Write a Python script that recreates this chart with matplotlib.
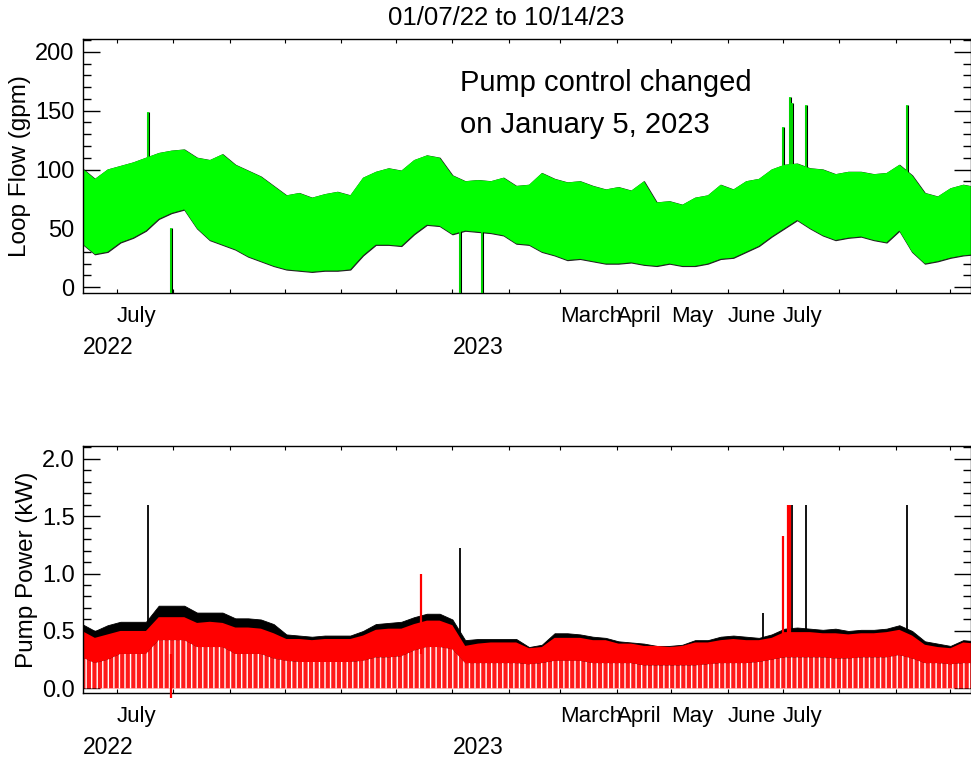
import numpy as np
import pandas as pd
import matplotlib
matplotlib.use("Agg")
import matplotlib.pyplot as plt
import matplotlib.dates as mdates
from matplotlib.ticker import MultipleLocator

plt.rcParams['font.family'] = ['Liberation Sans', 'DejaVu Sans']
plt.rcParams['hatch.linewidth'] = 1.0

# weekly samples
dates = pd.date_range('2022-06-12', periods=71, freq='7D')

# loop flow band (gpm): weekly upper / lower envelope
flow_hi = [101, 92, 100, 103, 106, 110, 114, 116, 117, 110, 108, 113, 104, 99, 94, 86,
           78, 80, 76, 79, 81, 78, 93, 98, 101, 99, 108, 112, 110, 95, 90, 91,
           90, 93, 86, 87, 97, 92, 89, 90, 86, 83, 85, 82, 90, 72, 73, 70,
           76, 78, 87, 83, 90, 92, 100, 104, 105, 101, 100, 96, 98, 98, 96, 97,
           104, 95, 80, 77, 84, 87, 85]
flow_lo = [37, 28, 30, 38, 42, 48, 58, 63, 66, 50, 40, 36, 32, 26, 22, 18,
           15, 14, 13, 14, 14, 15, 27, 36, 36, 35, 45, 53, 52, 45, 48, 47,
           46, 44, 37, 36, 30, 27, 23, 24, 22, 20, 20, 21, 19, 18, 20, 18,
           18, 20, 24, 25, 30, 35, 43, 50, 57, 50, 44, 40, 42, 43, 40, 38,
           48, 30, 20, 22, 25, 27, 28]
flow_spike_dates = ['2022-07-18', '2023-07-01', '2023-07-05', '2023-07-06', '2023-07-14', '2023-09-07']
flow_spike_vals = [149, 136, 162, 157, 155, 155]
flow_dip_dates = ['2022-07-31', '2023-01-05', '2023-01-17']
flow_dip_vals = [-5, -5, -5]

# pump power band (kW): black top, red top, red lower edge
pow_black = [0.56, 0.50, 0.55, 0.58, 0.58, 0.58, 0.72, 0.72, 0.72, 0.66, 0.66, 0.66, 0.61, 0.61, 0.60, 0.56,
             0.47, 0.46, 0.45, 0.46, 0.46, 0.46, 0.50, 0.56, 0.57, 0.58, 0.62, 0.65, 0.65, 0.60, 0.42, 0.43,
             0.43, 0.43, 0.43, 0.36, 0.38, 0.48, 0.48, 0.47, 0.45, 0.44, 0.41, 0.40, 0.39, 0.37, 0.37, 0.38,
             0.42, 0.42, 0.45, 0.46, 0.45, 0.44, 0.47, 0.52, 0.53, 0.52, 0.51, 0.52, 0.50, 0.51, 0.51, 0.52,
             0.55, 0.50, 0.41, 0.39, 0.37, 0.42, 0.41]
pow_red = [0.50, 0.44, 0.47, 0.50, 0.50, 0.50, 0.62, 0.62, 0.62, 0.57, 0.58, 0.57, 0.53, 0.53, 0.52, 0.48,
           0.43, 0.43, 0.42, 0.43, 0.43, 0.43, 0.46, 0.51, 0.52, 0.52, 0.56, 0.59, 0.59, 0.55, 0.37, 0.39,
           0.40, 0.40, 0.40, 0.35, 0.36, 0.44, 0.44, 0.44, 0.42, 0.42, 0.39, 0.39, 0.37, 0.37, 0.36, 0.37,
           0.40, 0.40, 0.42, 0.43, 0.42, 0.42, 0.44, 0.49, 0.49, 0.49, 0.48, 0.48, 0.47, 0.48, 0.48, 0.49,
           0.51, 0.46, 0.38, 0.36, 0.35, 0.40, 0.39]
pow_low = [0.27, 0.22, 0.25, 0.30, 0.30, 0.30, 0.42, 0.42, 0.42, 0.36, 0.36, 0.36, 0.30, 0.30, 0.30, 0.26,
           0.24, 0.23, 0.23, 0.23, 0.23, 0.23, 0.24, 0.27, 0.27, 0.28, 0.33, 0.36, 0.36, 0.34, 0.22, 0.22,
           0.22, 0.22, 0.22, 0.21, 0.22, 0.24, 0.24, 0.24, 0.22, 0.22, 0.22, 0.22, 0.20, 0.20, 0.20, 0.20,
           0.20, 0.21, 0.22, 0.22, 0.22, 0.23, 0.25, 0.27, 0.27, 0.27, 0.27, 0.26, 0.26, 0.27, 0.27, 0.27,
           0.29, 0.26, 0.22, 0.22, 0.21, 0.22, 0.22]
black_spike_dates = ['2022-07-18', '2023-01-05', '2023-06-20', '2023-07-06', '2023-07-14', '2023-09-07']
black_spike_vals = [1.60, 1.22, 0.66, 1.60, 1.60, 1.60]
red_spike_dates = ['2022-12-15', '2023-07-01', '2023-07-04', '2023-07-05']
red_spike_vals = [1.00, 1.33, 1.60, 1.60]
red_dip_dates = ['2022-07-31']
red_dip_vals = [-0.08]

month_labels = ['July', 'March', 'April', 'May', 'June', 'July']
month_dates = ['2022-07-01', '2023-03-01', '2023-04-01', '2023-05-01', '2023-06-01', '2023-07-01']
year_labels = ['2022', '2023']
year_dates = ['2022-06-12 12:00', '2023-01-01']

xlim = (pd.Timestamp('2022-06-12 12:00'), pd.Timestamp('2023-10-12'))

fig = plt.figure(figsize=(9.71, 7.61), dpi=100)
ax1 = fig.add_axes([83 / 971, 1 - 293 / 761, 887.5 / 971, 254 / 761])
ax2 = fig.add_axes([83 / 971, 1 - 693 / 761, 887.5 / 971, 247 / 761])


def style_axis(ax, major, minor):
    ax.set_xlim(*xlim)
    ax.xaxis.set_major_locator(mdates.MonthLocator())
    ax.xaxis.set_major_formatter(plt.NullFormatter())
    ax.yaxis.set_major_locator(MultipleLocator(major))
    ax.yaxis.set_minor_locator(MultipleLocator(minor))
    ax.tick_params(axis='x', direction='in', length=3, width=0.8, top=True, bottom=True)
    ax.tick_params(axis='y', which='major', direction='in', length=12, width=1, left=True, right=True,
                   labelsize=17, pad=6)
    ax.tick_params(axis='y', which='minor', direction='in', length=6, width=1, left=True, right=True)
    for s in ax.spines.values():
        s.set_linewidth(1)
    for lab, d in zip(month_labels, month_dates):
        ax.annotate(lab, xy=(pd.Timestamp(d), 0), xycoords=('data', 'axes fraction'),
                    xytext=(0, -17), textcoords='offset points', ha='left', va='center', fontsize=16)
    for lab, d in zip(year_labels, year_dates):
        ax.annotate(lab, xy=(pd.Timestamp(d), 0), xycoords=('data', 'axes fraction'),
                    xytext=(0, -39), textcoords='offset points', ha='left', va='center', fontsize=16.5)


# --- loop flow
fd = pd.to_datetime(flow_spike_dates)
dd = pd.to_datetime(flow_dip_dates)
ax1.fill_between(dates, flow_lo, flow_hi, facecolor='black', edgecolor='#222222', linewidth=0.9, zorder=1)
ax1.vlines(fd, 60, flow_spike_vals, color='black', linewidth=2.2, zorder=1)
ax1.vlines(dd, flow_dip_vals, 50, color='black', linewidth=2.2, zorder=1)
ax1.fill_between(dates, flow_lo, flow_hi, facecolor='#00ff00', edgecolor='none', linewidth=0, zorder=2)
ax1.vlines(fd, 60, flow_spike_vals, color='#00ff00', linewidth=1.2, zorder=3)
ax1.vlines(dd, flow_dip_vals, 50, color='#00ff00', linewidth=1.2, zorder=3)
ax1.set_ylim(-5, 211)
ax1.set_ylabel('Loop Flow (gpm)', fontsize=17.5, labelpad=3)
style_axis(ax1, 50, 10)
ax1.text(460 / 971, 1 - 83 / 761, 'Pump control changed', transform=fig.transFigure,
         fontsize=21, ha='left', va='center')
ax1.text(460 / 971, 1 - 125 / 761, 'on January 5, 2023', transform=fig.transFigure,
         fontsize=21, ha='left', va='center')

# --- pump power
ax2.fill_between(dates, pow_low, pow_black, facecolor='black', edgecolor='black', linewidth=0.6, zorder=1)
ax2.vlines(pd.to_datetime(black_spike_dates), 0.3, black_spike_vals, color='black', linewidth=1.3, zorder=1)
ax2.fill_between(dates, pow_low, pow_red, facecolor='#ff0000', edgecolor='none', linewidth=0, zorder=2)
ax2.fill_between(dates, 0, pow_low, facecolor='#ff1a1a', edgecolor='white', hatch='|||',
                 linewidth=0, zorder=2)
ax2.vlines(pd.to_datetime(red_spike_dates), 0.3, red_spike_vals, color='#ff0000', linewidth=1.6, zorder=3)
ax2.vlines(pd.to_datetime(red_dip_dates), red_dip_vals, 0.3, color='#ff0000', linewidth=1.6,
           zorder=3, clip_on=False)
ax2.set_ylim(-0.04, 2.11)
ax2.set_ylabel('Pump Power (kW)', fontsize=17.5, labelpad=3)
style_axis(ax2, 0.5, 0.1)
ax2.yaxis.set_major_formatter(plt.FormatStrFormatter('%.1f'))

fig.text(506 / 971, 1 - 18 / 761, '01/07/22 to 10/14/23', fontsize=18.5, ha='center', va='center')

fig.savefig('out.png', dpi=100)
